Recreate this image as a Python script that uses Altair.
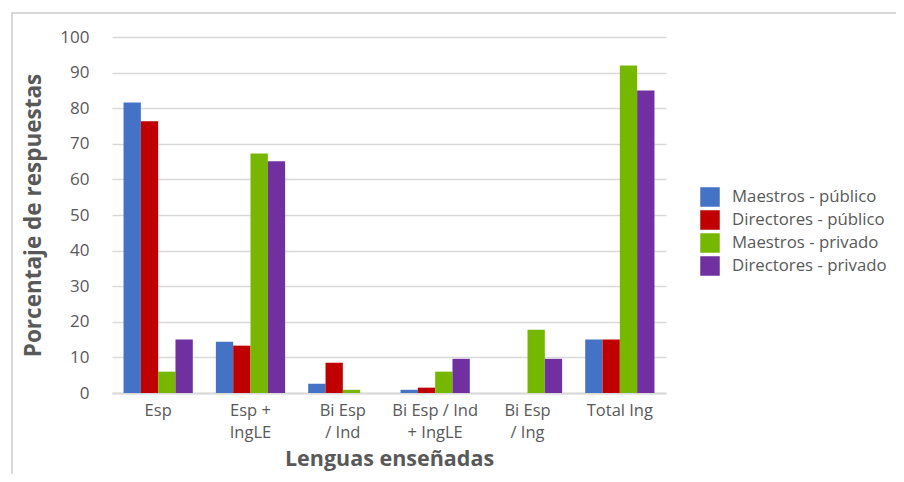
import altair as alt
import pandas as pd

categories = ["Esp", "Esp +|IngLE", "Bi Esp|/ Ind", "Bi Esp / Ind|+ IngLE", "Bi Esp|/ Ing", "Total Ing"]
series = ["Maestros - público", "Directores - público", "Maestros - privado", "Directores - privado"]
maestros_publico = [81.6, 14.4, 2.6, 0.9, 0.0, 15.0]
directores_publico = [76.3, 13.3, 8.5, 1.5, 0.0, 15.0]
maestros_privado = [6.0, 67.3, 0.9, 6.0, 17.8, 92.0]
directores_privado = [15.0, 65.1, 0.0, 9.6, 9.6, 85.0]
colors = ["#4472C4", "#C00000", "#76B800", "#7030A0"]

rows = []
for s, vals in zip(series, [maestros_publico, directores_publico, maestros_privado, directores_privado]):
    for c, v in zip(categories, vals):
        rows.append({"cat": c, "serie": s, "val": v})
df = pd.DataFrame(rows)

FONT = "Open Sans"
GRAY = "#595959"

bars = alt.Chart(df).mark_bar().encode(
    x=alt.X("cat:N", sort=categories,
            scale=alt.Scale(paddingInner=0.25, paddingOuter=0.125),
            axis=alt.Axis(title="Lenguas enseñadas", labelAngle=0,
                          labelExpr="split(datum.label, '|')",
                          labelFont=FONT, labelFontSize=16.5, labelColor=GRAY,
                          labelLineHeight=22, labelPadding=9, labelBaseline="top",
                          titleFont=FONT, titleFontSize=21.5, titleFontWeight="bold",
                          titleColor=GRAY, titlePadding=8,
                          ticks=False, domainColor="#D9D9D9", domainWidth=2)),
    xOffset=alt.XOffset("serie:N", sort=series),
    y=alt.Y("val:Q", scale=alt.Scale(domain=[0, 100]),
            axis=alt.Axis(title="Porcentaje de respuestas", values=list(range(0, 101, 10)),
                          labelFont=FONT, labelFontSize=17, labelColor=GRAY,
                          labelPadding=23, ticks=False, domain=False,
                          gridColor="#D9D9D9", gridWidth=1.5,
                          titleFont=FONT, titleFontSize=22.5, titleFontWeight="bold",
                          titleColor=GRAY, titlePadding=14)),
    color=alt.Color("serie:N", sort=series,
                    scale=alt.Scale(domain=series, range=colors),
                    legend=alt.Legend(title=None, orient="none", legendX=588, legendY=150,
                                      symbolType="square", symbolSize=380, symbolStrokeWidth=0,
                                      labelFont=FONT, labelFontSize=16.8, labelColor=GRAY,
                                      labelOffset=12, rowPadding=3, padding=0, labelLimit=300)),
)

frame = alt.Chart(pd.DataFrame({"a": [0]})).mark_rect(
    fill=None, stroke="#D9D9D9", strokeWidth=2, clip=False
).encode(
    x=alt.value(-100), x2=alt.value(900), y=alt.value(-24), y2=alt.value(500)
)

chart = alt.layer(frame, bars).properties(
    width=554, height=356,
    padding={"left": 104, "top": 29, "right": 230, "bottom": 81},
    autosize=alt.AutoSizeParams(type="none"),
).configure_view(stroke=None)

chart.save("out.html", embed_options={"renderer": "svg", "actions": False})
